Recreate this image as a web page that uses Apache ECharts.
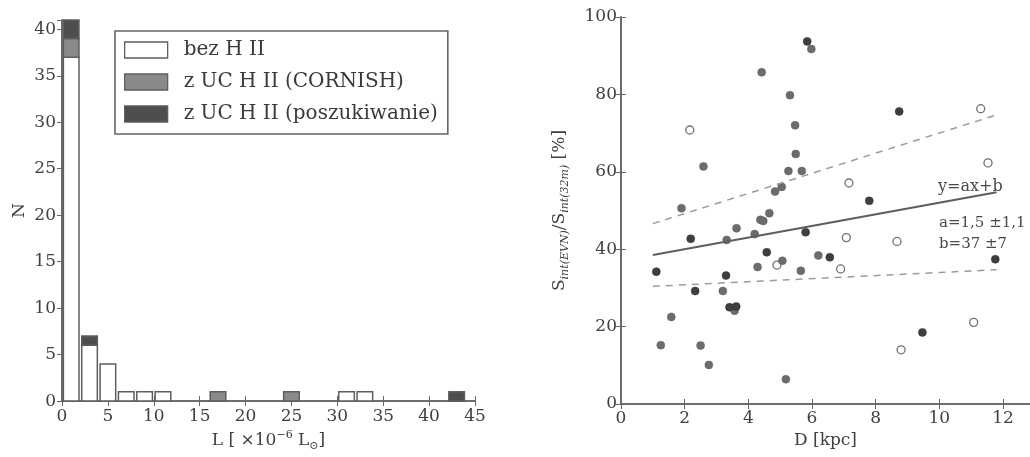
<!DOCTYPE html>
<html>
<head>
<meta charset="utf-8">
<script src="https://cdn.jsdelivr.net/npm/echarts@6/dist/echarts.min.js"></script>
<style>html,body{margin:0;padding:0;background:#fff}#c{width:1030px;height:457px}</style>
</head>
<body>
<div id="c"></div>
<script>
// ---- Left panel: histogram of L [x10^-6 Lsun] ----
const binLeft = [0,2,4,6,8,10,12,14,16,18,20,22,24,26,28,30,32,34,36,38,40,42];
const binWidth = 2;
const countBez     = [37,6,4,1,1,1,0,0,0,0,0,0,0,0,0,1,1,0,0,0,0,0];
const countCornish = [2,0,0,0,0,0,0,0,1,0,0,0,1,0,0,0,0,0,0,0,0,0];
const countPoszuk  = [2,1,0,0,0,0,0,0,0,0,0,0,0,0,0,0,0,0,0,0,0,1];
const histNames = ['bez H II','z UC H II (CORNISH)','z UC H II (poszukiwanie)'];
const histXTicks = [0,5,10,15,20,25,30,35,40,45];
const histYTicks = [0,5,10,15,20,25,30,35,40];

// ---- Right panel: scatter S_int(EVN)/S_int(32m) vs D ----
const darkD = [2.19,4.58,1.11,3.30,2.33,3.41,3.62,5.85,8.74,7.80,5.80,6.56,11.76,9.47];
const darkS = [42.7,39.2,34.2,33.2,29.2,25.0,25.2,93.7,75.6,52.5,44.4,37.9,37.4,18.5];
const medD = [4.42,5.31,5.47,5.49,2.59,5.26,5.68,1.90,4.84,5.05,4.66,4.38,4.47,3.63,3.32,4.20,5.07,4.29,5.65,3.20,3.57,1.58,1.25,2.50,2.76,5.18,5.98,6.20];
const medS = [85.7,79.8,72.0,64.6,61.4,60.2,60.2,50.6,54.9,56.1,49.3,47.6,47.3,45.4,42.4,43.9,37.0,35.4,34.4,29.2,24.1,22.5,15.2,15.1,10.1,6.4,91.7,38.4];
const openD = [2.16,4.90,7.16,11.30,11.53,7.08,8.67,6.90,11.08,8.80];
const openS = [70.8,35.9,57.1,76.3,62.3,43.0,42.0,34.9,21.1,14.0];
const fitLine   = [[1.0,38.5],[11.8,54.7]];
const upperLine = [[1.0,46.6],[11.8,74.7]];
const lowerLine = [[1.0,30.4],[11.8,34.7]];
const fitTexts = ['y=ax+b','a=1,5 ±1,1','b=37 ±7'];

const FONT = 'DejaVu Serif';
const TXT = '#404040';
const FRAME = '#666666';

function buildHist(counts, below) {
  const out = [];
  counts.forEach((c, i) => {
    const b = below ? below[i] : 0;
    if (c > 0) out.push([binLeft[i], b, b + c]);
  });
  return out;
}
const base1 = countBez.slice();
const base2 = countBez.map((v, i) => v + countCornish[i]);
const histFill = ['#ffffff', '#8a8a8a', '#4e4e4e'];

function histSeries(idx, data) {
  return {
    type: 'custom', name: histNames[idx], xAxisIndex: 0, yAxisIndex: 0,
    data: data, encode: {x: 0, y: [1, 2]},
    itemStyle: {color: histFill[idx]},
    renderItem: function (params, api) {
      const l = api.value(0), b = api.value(1), t = api.value(2);
      const p0 = api.coord([l + binWidth * 0.075, t]);
      const p1 = api.coord([l + binWidth * 0.925, b]);
      return {type: 'rect',
        shape: {x: p0[0], y: p0[1], width: p1[0] - p0[0], height: p1[1] - p0[1]},
        style: {fill: histFill[idx], stroke: '#5e5e5e', lineWidth: 1.5}};
    }
  };
}

const axisCommon = {
  axisLine: {show: true, lineStyle: {color: FRAME, width: 1.6}},
  axisTick: {show: true, inside: true, length: 5, lineStyle: {color: FRAME, width: 1}},
  splitLine: {show: false},
  axisLabel: {color: TXT, fontFamily: FONT, fontSize: 17}
};
function ax(extra) { return Object.assign({}, JSON.parse(JSON.stringify(axisCommon)), extra); }

const chart = echarts.init(document.getElementById('c'));
chart.setOption({
  animation: false,
  textStyle: {fontFamily: FONT},
  grid: [
    {left: 62, top: 20, width: 413, height: 388},
    {left: 621, top: 17, width: 411, height: 387}
  ],
  legend: {
    data: [
      {name: histNames[0], icon: 'rect', itemStyle: {color: histFill[0], borderColor: '#5e5e5e', borderWidth: 1.3}},
      {name: histNames[1], icon: 'rect', itemStyle: {color: histFill[1], borderColor: '#5e5e5e', borderWidth: 1.3}},
      {name: histNames[2], icon: 'rect', itemStyle: {color: histFill[2], borderColor: '#5e5e5e', borderWidth: 1.3}}
    ],
    orient: 'vertical', left: 115, top: 31, selectedMode: false,
    itemWidth: 43, itemHeight: 16, itemGap: 12,
    padding: [9, 10, 10, 9],
    borderColor: FRAME, borderWidth: 1.6, backgroundColor: '#fff',
    textStyle: {color: '#3a3a3a', fontFamily: FONT, fontSize: 20, lineHeight: 20, padding: [0, 0, 0, 11]}
  },
  xAxis: [
    ax({gridIndex: 0, type: 'value', position: 'bottom', min: 0, max: 45, interval: 5,
      axisLabel: {color: TXT, fontFamily: FONT, fontSize: 17, margin: 7, formatter: v => histXTicks.indexOf(v) >= 0 ? String(v) : ''},
      name: 'L [ ×10{sup|−6} L{sub|⊙}]', nameLocation: 'middle', nameGap: 27,
      nameTextStyle: {color: TXT, fontFamily: FONT, fontSize: 17, lineHeight: 22,
        rich: {sup: {fontSize: 11, fontFamily: FONT, color: TXT, verticalAlign: 'top', lineHeight: 12},
               sub: {fontSize: 11, fontFamily: FONT, color: TXT, verticalAlign: 'bottom', lineHeight: 10}}}}),
    ax({gridIndex: 0, type: 'value', position: 'top', min: 0, max: 45, interval: 5, axisLabel: {show: false}}),
    ax({gridIndex: 1, type: 'value', position: 'bottom', min: 0, max: 12.85, interval: 2,
      axisLabel: {color: TXT, fontFamily: FONT, fontSize: 17, margin: 6, showMaxLabel: false},
      name: 'D [kpc]', nameLocation: 'middle', nameGap: 27,
      nameTextStyle: {color: TXT, fontFamily: FONT, fontSize: 17}}),
    ax({gridIndex: 1, type: 'value', position: 'top', min: 0, max: 12.85, interval: 2, axisLabel: {show: false}})
  ],
  yAxis: [
    ax({gridIndex: 0, type: 'value', position: 'left', min: 0, max: 41, interval: 5,
      axisLabel: {color: TXT, fontFamily: FONT, fontSize: 17, margin: 6, showMaxLabel: false,
        formatter: v => histYTicks.indexOf(v) >= 0 ? String(v) : ''},
      name: 'N', nameLocation: 'middle', nameGap: 34, nameRotate: 90,
      nameTextStyle: {color: TXT, fontFamily: FONT, fontSize: 17}}),
    ax({gridIndex: 0, type: 'value', position: 'right', min: 0, max: 41, interval: 5, axisLabel: {show: false}}),
    ax({gridIndex: 1, type: 'value', position: 'left', min: 0, max: 100, interval: 20,
      axisLabel: {color: TXT, fontFamily: FONT, fontSize: 17, margin: 4},
      name: 'S{sub|int(EVN)}/S{sub|int(32m)} [%]', nameLocation: 'middle', nameGap: 50, nameRotate: 90,
      nameTextStyle: {color: TXT, fontFamily: FONT, fontSize: 17, lineHeight: 22,
        rich: {sub: {fontSize: 11, fontFamily: FONT, fontStyle: 'italic', color: TXT, verticalAlign: 'bottom', lineHeight: 11}}}}),
    ax({gridIndex: 1, type: 'value', position: 'right', min: 0, max: 100, interval: 20, axisLabel: {show: false}})
  ],
  series: [
    histSeries(0, buildHist(countBez, null)),
    histSeries(1, buildHist(countCornish, base1)),
    histSeries(2, buildHist(countPoszuk, base2)),
    {type: 'line', xAxisIndex: 2, yAxisIndex: 2, data: upperLine, symbol: 'none', silent: true,
      lineStyle: {color: '#9c9c9c', width: 1.5, type: [7, 6]}},
    {type: 'line', xAxisIndex: 2, yAxisIndex: 2, data: lowerLine, symbol: 'none', silent: true,
      lineStyle: {color: '#9c9c9c', width: 1.5, type: [7, 6]}},
    {type: 'scatter', xAxisIndex: 2, yAxisIndex: 2, symbolSize: 8,
      data: openD.map((d, i) => [d, openS[i]]),
      itemStyle: {color: '#fff', borderColor: '#707070', borderWidth: 1.3, opacity: 1}},
    {type: 'scatter', xAxisIndex: 2, yAxisIndex: 2, symbolSize: 8,
      data: medD.map((d, i) => [d, medS[i]]),
      itemStyle: {color: '#6c6c6c', borderColor: '#606060', borderWidth: 0.5, opacity: 1}},
    {type: 'scatter', xAxisIndex: 2, yAxisIndex: 2, symbolSize: 8,
      data: darkD.map((d, i) => [d, darkS[i]]),
      itemStyle: {color: '#3e3e3e', borderColor: '#333', borderWidth: 0.5, opacity: 1}},
    {type: 'line', xAxisIndex: 2, yAxisIndex: 2, data: fitLine, symbol: 'none', silent: true,
      lineStyle: {color: '#5e5e5e', width: 2}}
  ],
  graphic: [
    {type: 'text', left: 938, top: 179, style: {text: fitTexts[0], fill: '#4a4a4a', font: '16px "DejaVu Serif"'}},
    {type: 'text', left: 939, top: 216, style: {text: fitTexts[1], fill: '#4a4a4a', font: '15px "DejaVu Serif"'}},
    {type: 'text', left: 939, top: 237, style: {text: fitTexts[2], fill: '#4a4a4a', font: '15px "DejaVu Serif"'}}
  ]
});
</script>
</body>
</html>
